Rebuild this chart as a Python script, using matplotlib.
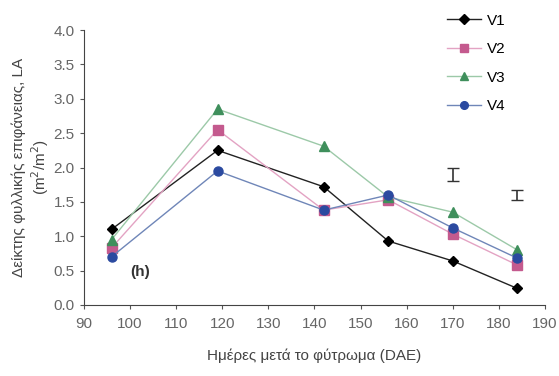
import numpy as np
import matplotlib.pyplot as plt

plt.rcParams['font.family'] = ['Liberation Sans', 'DejaVu Sans']

# ημέρες μετά το φύτρωμα
dae = [96, 119, 142, 156, 170, 184]
v1 = [1.10, 2.25, 1.72, 0.93, 0.64, 0.24]
v2 = [0.83, 2.55, 1.38, 1.53, 1.03, 0.58]
v3 = [0.95, 2.85, 2.31, 1.57, 1.35, 0.80]
v4 = [0.70, 1.95, 1.38, 1.60, 1.12, 0.68]

# LSD μπάρες
err_x = [170, 184]
err_y = [1.90, 1.60]
err_h = [0.10, 0.07]

fig = plt.figure(figsize=(5.59, 3.76), dpi=100)
ax = fig.add_axes([0.150, 0.189, 0.825, 0.731])

ax.plot(dae, v1, color='#222222', lw=1.0, marker='D', ms=5.5, mfc='black', mec='black', label='V1')
ax.plot(dae, v2, color='#e3a3c3', lw=1.0, marker='s', ms=6.5, mfc='#c45a8e', mec='#c45a8e', label='V2')
ax.plot(dae, v3, color='#9cc9a8', lw=1.0, marker='^', ms=7.5, mfc='#3f8f5c', mec='#3f8f5c', label='V3')
ax.plot(dae, v4, color='#6f86b8', lw=1.0, marker='o', ms=6.5, mfc='#2b4aa0', mec='#2b4aa0', label='V4')

ax.errorbar(err_x, err_y, yerr=err_h, fmt='none', ecolor='#333333', elinewidth=1.2, capsize=4)

ax.text(100, 0.42, '(h)', fontsize=11, fontweight='bold', color='#333333')

ax.set_xlim(90, 190)
ax.set_ylim(0, 4.0)
ax.set_xticks(np.arange(90, 191, 10))
ax.set_yticks(np.arange(0, 4.01, 0.5))
ax.set_yticklabels([f'{t:.1f}' for t in np.arange(0, 4.01, 0.5)])
ax.tick_params(colors='#555555', labelsize=11, length=3, labelcolor='#666666')
ax.tick_params(axis='x', pad=6)
for s in ['top', 'right']:
    ax.spines[s].set_visible(False)
ax.spines['left'].set_color('#444444')
ax.spines['bottom'].set_color('#444444')

ax.set_xlabel('Ημέρες μετά το φύτρωμα (DAE)', fontsize=11, color='#444444', labelpad=12)
ax.set_ylabel('Δείκτης φυλλικής επιφάνειας, LA\n(m$^2$/m$^2$)', fontsize=11, color='#444444', labelpad=2)

leg = fig.legend(loc='upper left', bbox_to_anchor=(0.775, 1.0), frameon=False, fontsize=11,
                 labelspacing=0.95, handlelength=2.2, handletextpad=0.4, markerscale=0.85)

fig.savefig('out.png', dpi=100)
